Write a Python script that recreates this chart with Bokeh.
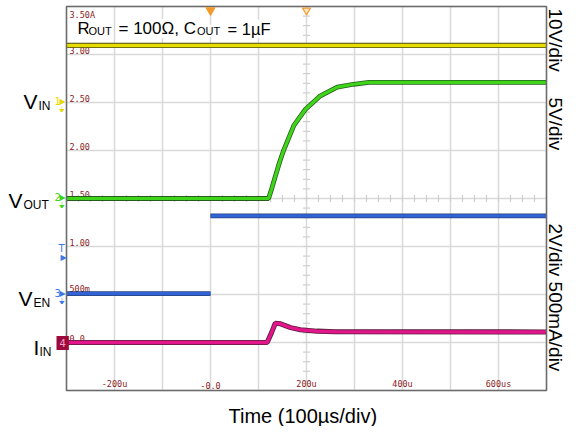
import numpy as np
from bokeh.plotting import figure
from bokeh.models import Range1d, Label
from bokeh.core.properties import value
from bokeh.embed import file_html
from bokeh.resources import INLINE

# ---- data ----
time_grid = [-300, -200, -100, 0, 100, 200, 300, 400, 500, 600, 700]
level_grid = [-0.5, 0.0, 0.5, 1.0, 1.5, 2.0, 2.5, 3.0, 3.5]
x_tick_values = [-200, 0, 200, 400, 600]
x_tick_labels = ["-200u", "-0.0", "200u", "400u", "600us"]
y_tick_values = [3.0, 2.5, 2.0, 1.5, 1.0, 0.5, 0.0]
y_tick_labels = ["3.00", "2.50", "2.00", "1.50", "1.00", "500m", "0.0"]
y_top_value = [3.5]
y_top_label = ["3.50A"]

vin_t = [-300, 700]
vin_v = [3.095, 3.095]

vout_t = [-300, 121, 128, 135, 144, 153, 173.5, 198, 229, 264, 298, 330, 700]
vout_v = [1.50, 1.50, 1.61, 1.73, 1.88, 2.01, 2.26, 2.43, 2.57, 2.66, 2.69, 2.71, 2.71]

ven_t = [-300, 0, np.nan, 0, 700]
ven_v = [0.51, 0.51, np.nan, 1.32, 1.32]

iin_t = [-300, 118, 127, 135, 146, 167, 187, 222, 260, 700]
iin_v = [0.0, 0.0, 0.10, 0.20, 0.195, 0.155, 0.133, 0.118, 0.112, 0.11]

trigger_t = [0]
center_t = [200]

# ---- geometry: the whole canvas is the frame; the scope screen is drawn inside ----
W, H = 568, 426
X0, X1, Y0, Y1 = -300, 700, -0.5, 3.5
PX_L, PX_T, PX_PER_US, PX_PER_UNIT = 66, 6, 0.48, 96.0


def tx(px):
    return X0 + (px - PX_L) / PX_PER_US


def vy(py):
    return Y1 - (py - PX_T) / PX_PER_UNIT


p = figure(width=W, height=H, x_range=Range1d(tx(0), tx(W)), y_range=Range1d(vy(H), vy(0)),
           x_axis_type=None, y_axis_type=None, output_backend="svg",
           toolbar_location=None, title=None,
           min_border_left=0, min_border_right=0, min_border_top=0, min_border_bottom=0)
p.outline_line_color = None
p.background_fill_color = "white"
p.border_fill_color = "white"

grid_col = "#d9d9d9"
p.segment(x0=time_grid, y0=[Y0] * len(time_grid), x1=time_grid, y1=[Y1] * len(time_grid),
          line_color=grid_col, line_width=1.5)
p.segment(x0=[X0] * len(level_grid), y0=level_grid, x1=[X1] * len(level_grid), y1=level_grid,
          line_color=grid_col, line_width=1.5)

# minor ticks on the centre cross
p.scatter(x=[200] * 40, y=list(np.arange(-0.5, 3.5, 0.1)), marker="dash", size=7,
          line_color="#cfcfcf", line_width=1.2)
p.scatter(x=list(np.arange(-300, 700, 25)), y=[1.5] * 40, marker="dash", angle=np.pi / 2,
          size=7, line_color="#cfcfcf", line_width=1.2)

# tick labels inside the screen
mono = value("DejaVu Sans Mono")
tick_col = "#8b2323"
p.text(x=[X0] * len(y_tick_values), y=y_tick_values, text=y_tick_labels, x_offset=3, y_offset=-1,
       text_font=mono, text_font_size="8.5px", text_color=tick_col, text_baseline="bottom")
p.text(x=[X0], y=y_top_value, text=y_top_label, x_offset=3, y_offset=3,
       text_font=mono, text_font_size="8.5px", text_color=tick_col, text_baseline="top")
p.text(x=x_tick_values, y=[Y0] * len(x_tick_values), text=x_tick_labels, y_offset=-2,
       text_font=mono, text_font_size="8.5px", text_color=tick_col, text_baseline="bottom",
       text_align="center")


# traces
def trace(t, v, color, dark, w):
    p.line(t, v, line_color=dark, line_width=w + 1.6, line_alpha=0.9)
    p.line(t, v, line_color=color, line_width=w)


trace(vin_t, vin_v, "#e6dc00", "#3a3a00", 3.5)
trace(vout_t, vout_v, "#3ed41a", "#0f4a05", 3.2)
trace(ven_t, ven_v, "#2f63d6", "#14306e", 3.2)
trace(iin_t, iin_v, "#e0168a", "#4a0628", 3.5)

# screen border
p.quad(left=[X0], right=[X1], bottom=[Y0], top=[Y1], fill_color=None,
       line_color="#6b6b6b", line_width=1.5)

# trigger markers at top
p.scatter(x=trigger_t, y=[Y1 - 0.04], marker="inverted_triangle", size=9,
          fill_color="#f39a2b", line_color="#f39a2b")
p.scatter(x=center_t, y=[Y1 - 0.04], marker="inverted_triangle", size=8,
          fill_color="#fde3c0", line_color="#f39a2b", line_width=1.2)


# ---- annotations (positions = baseline start in reference pixels) ----
def lab(text, px, py, size, color="black", font="Liberation Sans", rotated=False, **kw):
    shift = 0.35 * size  # Label anchors on the middle of the line box
    if rotated:
        ax, ay, ang = px + shift, py, -np.pi / 2
    else:
        ax, ay, ang = px, py - shift, 0.0
    p.add_layout(Label(x=tx(ax), y=vy(ay), text=text, text_font=font,
                       text_font_size=f"{size}px", text_color=color,
                       text_baseline="middle", text_align="left", angle=ang, **kw))


# title
for txt, px, sz in [("R", 77, 17), ("OUT", 88, 11), ("= 100Ω, C", 118, 17),
                    ("OUT", 196.5, 11), ("= 1µF", 227, 16.5)]:
    lab(txt, px, 34, sz, background_fill_color="white")

# channel names
lab("V", 23, 108, 21); lab("IN", 38, 110, 12)
lab("V", 8, 207, 21); lab("OUT", 23, 208.5, 12)
lab("V", 18, 305, 21); lab("EN", 33, 306.5, 12)
lab("I", 33, 354, 21); lab("IN", 39, 356, 12)

# right side scale labels (reading top to bottom)
for txt, py in [("10V/div", 8), ("5V/div", 97), ("2V/div 500mA/div", 223)]:
    lab(txt, 548.5, py, 19, rotated=True)

lab("Time (100µs/div)", 228, 422, 20)

# channel ground markers
sym = "DejaVu Sans"
for num, py, col in [("1", 102, "#e8d800"), ("2", 198, "#3ed41a"), ("3", 294, "#3d7ae8")]:
    lab(num, 54, py + 2, 10, color=col, font=sym)
    lab("▶", 59, py + 2, 8, color=col, font=sym)
    lab("⏚", 58, py + 10, 8, color=col, font=sym)
lab("T", 58, 251, 10, color="#3d7ae8", font=sym)
lab("▶", 60, 260, 8, color="#3d7ae8", font=sym)
lab("4", 56, 346, 10, color="#f2a0cc", font=sym, background_fill_color="#9c0a3c", padding=3)

open("out.html", "w").write(file_html(p, INLINE))
